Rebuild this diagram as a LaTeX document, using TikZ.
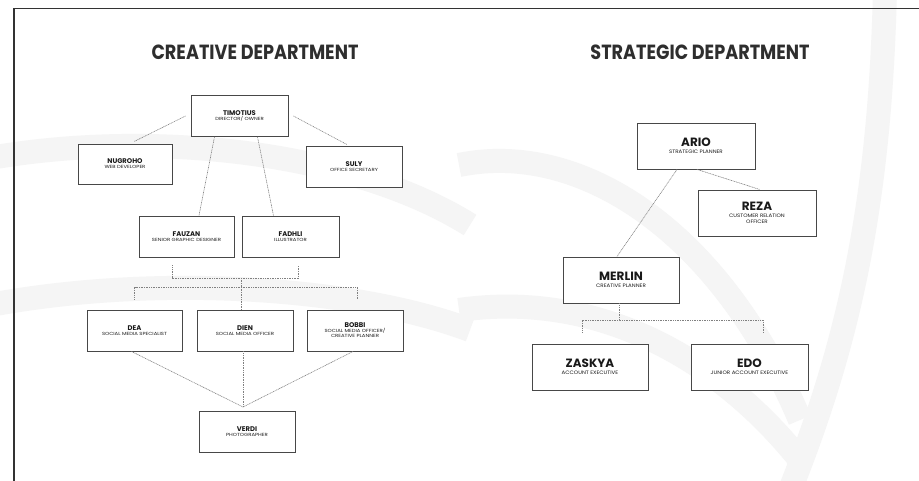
\documentclass[tikz,border=0pt]{standalone}
\usepackage{fontspec}
\setmainfont{Poppins}
\usetikzlibrary{calc}
\tikzset{
  box/.style={draw=black!72, line width=0.9pt, fill=white, inner sep=0pt, align=center, text=black!90},
  lbox/.style={box, minimum height=41pt, font=\fontsize{5}{5.5}\selectfont},
  sbox/.style={box, minimum width=117pt, minimum height=45pt, font=\fontsize{5}{6}\selectfont},
  link/.style={draw=black!50, line width=0.6pt, dash pattern=on 1pt off 0.7pt},
  frame/.style={draw=black!80, line width=1.3pt},
  wm/.style={draw=black!4, line width=24pt},
  title/.style={font=\bfseries\fontsize{20.5}{22}\selectfont, text=black!82, inner sep=0pt}
}
\newcommand{\lname}[1]{{\bfseries\fontsize{6.8}{7}\selectfont #1}}
\newcommand{\lsub}[1]{{\fontsize{5.6}{6}\selectfont\scalebox{0.95}[0.8]{#1}}}
\newcommand{\sname}[1]{{\bfseries\fontsize{12}{12}\selectfont #1}}
\newcommand{\ssub}[1]{{\fontsize{5.8}{6}\selectfont\scalebox{0.95}[0.85]{#1}}}
\begin{document}
\begin{tikzpicture}[x=1pt,y=-1pt]
\useasboundingbox (0,0) rectangle (919,481);
\fill[white] (0,0) rectangle (919,481);
% faint watermark bands
\draw[wm] (-10,158) .. controls (150,130) and (350,150) .. (470,225);
\draw[wm] (-10,305) .. controls (150,275) and (350,285) .. (470,330);
\draw[wm] (459,165) .. controls (580,140) and (720,230) .. (800,420);
\draw[wm] (459,310) .. controls (600,290) and (720,360) .. (800,460);
\draw[wm] (885,-10) .. controls (880,200) and (850,340) .. (790,490);
\draw[frame] (919,8.5) -- (14,8.5) -- (14,481);

\node[title] (t1) at (255,52.5) {\scalebox{0.86}[1]{CREATIVE DEPARTMENT}};
\node[title] (t2) at (700,52.5) {\scalebox{0.86}[1]{STRATEGIC DEPARTMENT}};

% creative
\node[lbox, minimum width=97pt] (tim) at (239.5,116) {\lname{TIMOTIUS}\\[-0.5pt]\lsub{DIRECTOR/ OWNER}};
\node[lbox, minimum width=94pt, minimum height=40pt] (nug) at (125,164) {\lname{NUGROHO}\\[-0.5pt]\lsub{WEB DEVELOPER}};
\node[lbox, minimum width=96pt, minimum height=41pt] (sul) at (354,166.5) {\lname{SULY}\\[-0.5pt]\lsub{OFFICE SECRETARY}};
\node[lbox, minimum width=95pt] (fau) at (186.5,236.5) {\lname{FAUZAN}\\[-0.5pt]\lsub{SENIOR GRAPHIC DESIGNER}};
\node[lbox, minimum width=97pt] (fad) at (290.5,236.5) {\lname{FADHLI}\\[-0.5pt]\lsub{ILLUSTRATOR}};
\node[lbox, minimum width=95pt] (dea) at (134.5,330.5) {\lname{DEA}\\[-0.5pt]\lsub{SOCIAL MEDIA SPECIALIST}};
\node[lbox, minimum width=96pt] (die) at (245,330.5) {\lname{DIEN}\\[-0.5pt]\lsub{SOCIAL MEDIA OFFICER}};
\node[lbox, minimum width=96pt] (bob) at (355,330.5) {\lname{BOBBI}\\[-0.5pt]\lsub{SOCIAL MEDIA OFFICER/}\\[-0.5pt]\lsub{CREATIVE PLANNER}};
\node[lbox, minimum width=96pt, minimum height=41pt] (ver) at (247,431.5) {\lname{VERDI}\\[-0.5pt]\lsub{PHOTOGRAPHER}};

\draw[link] ([xshift=-5]tim.west) -- ([xshift=9,yshift=2]nug.north);
\draw[link] ([xshift=5]tim.east) -- ([xshift=-7,yshift=1]sul.north);
\draw[link] ([xshift=-25]tim.south) -- ([xshift=12.5]fau.north);
\draw[link] ([xshift=18]tim.south) -- ([xshift=-17]fad.north);

\coordinate (j1) at (241,278);
\coordinate (j2) at (241,287);
\draw[link] ([xshift=-14.5,yshift=-8]fau.south) |- (j1) -| ([xshift=7.5,yshift=-8]fad.south);
\draw[link] (j1) -- (j2);
\draw[link] ([xshift=0,yshift=10]dea.north) |- (j2) -| ([xshift=2,yshift=10]bob.north);
\draw[link] (j2) -- ([xshift=-4]die.north);

\coordinate (vp) at (243,407);
\draw[link] ([xshift=-3]dea.south) -- (vp);
\draw[link] ([xshift=-2]die.south) -- (vp);
\draw[link] ([xshift=-2]bob.south) -- (vp);

% strategic
\node[sbox, minimum width=118pt, minimum height=46pt] (ari) at (696,146) {\sname{ARIO}\\[1pt]\ssub{STRATEGIC PLANNER}};
\node[sbox, minimum width=118pt, minimum height=46pt] (rez) at (757,213) {\sname{REZA}\\[1pt]\ssub{CUSTOMER RELATION}\\\ssub{OFFICER}};
\node[sbox, minimum width=116pt, minimum height=46pt] (mer) at (621,280) {\sname{MERLIN}\\[1pt]\ssub{CREATIVE PLANNER}};
\node[sbox, minimum width=116pt, minimum height=46pt] (zas) at (590,367) {\sname{ZASKYA}\\[1pt]\ssub{ACCOUNT EXECUTIVE}};
\node[sbox, minimum width=117pt, minimum height=46pt] (edo) at (749.5,367) {\sname{EDO}\\[1pt]\ssub{JUNIOR ACCOUNT EXECUTIVE}};

\draw[link] ([xshift=1]ari.south) -- ([xshift=3]rez.north);
\draw[link] ([xshift=-19]ari.south) -- ([xshift=-4]mer.north);
\coordinate (mj) at (619,320);
\draw[link] ([xshift=-2]mer.south) -- (mj);
\draw[link] ([xshift=-8,yshift=11]zas.north) |- (mj) -| ([xshift=13.5,yshift=11]edo.north);
\end{tikzpicture}
\end{document}
